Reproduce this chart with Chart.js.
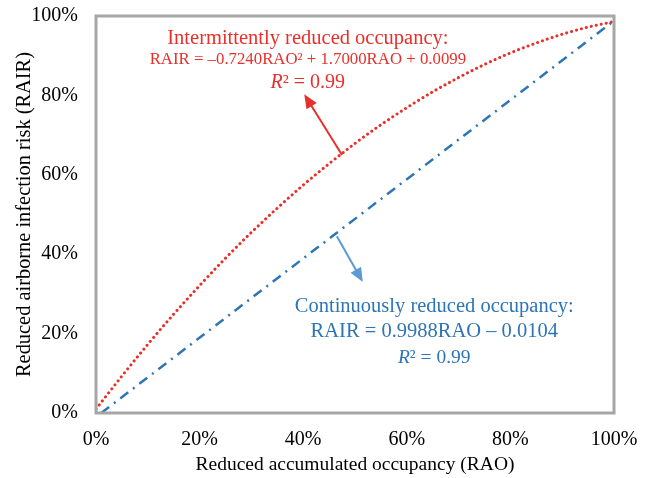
<!DOCTYPE html>
<html>
<head>
<meta charset="utf-8">
<script src="https://cdn.jsdelivr.net/npm/chart.js@4.4.1/dist/chart.umd.min.js"></script>
<style>
  html, body { margin: 0; padding: 0; background: #fff; }
  #wrap { width: 652px; height: 478px; }
</style>
</head>
<body>
<div id="wrap"><canvas id="chart"></canvas></div>
<script>
// values (percent)
var raoIntermittent = [0, 5, 10, 15, 20, 25, 30, 35, 40, 45, 50, 55, 60, 65, 70, 75, 80, 85, 90, 95, 100];
var rairIntermittent = [1.0, 9.3, 17.3, 24.9, 32.1, 39.0, 45.5, 51.6, 57.4, 62.8, 67.9, 72.6, 76.9, 80.9, 84.5, 87.8, 90.7, 93.2, 95.4, 97.2, 98.6];
var raoContinuous = [1.0, 100];
var rairContinuous = [0, 98.8];
var tickValues = [0, 20, 40, 60, 80, 100];

var serif = "'Liberation Serif', 'Times New Roman', serif";
var red = "#e8302a";
var blue = "#2e75b6";
var lightBlue = "#5b9bd5";

function pts(xs, ys) {
  var out = [];
  for (var i = 0; i < xs.length; i++) out.push({ x: xs[i], y: ys[i] });
  return out;
}

function arrow(ctx, x1, y1, x2, y2, color) {
  var a = Math.atan2(y2 - y1, x2 - x1);
  var len = 14, w = 6;
  ctx.save();
  ctx.strokeStyle = color;
  ctx.fillStyle = color;
  ctx.lineWidth = 2;
  ctx.beginPath();
  ctx.moveTo(x1, y1);
  ctx.lineTo(x2 - Math.cos(a) * len * 0.8, y2 - Math.sin(a) * len * 0.8);
  ctx.stroke();
  ctx.beginPath();
  ctx.moveTo(x2, y2);
  ctx.lineTo(x2 - Math.cos(a) * len + Math.sin(a) * w, y2 - Math.sin(a) * len - Math.cos(a) * w);
  ctx.lineTo(x2 - Math.cos(a) * len - Math.sin(a) * w, y2 - Math.sin(a) * len + Math.cos(a) * w);
  ctx.closePath();
  ctx.fill();
  ctx.restore();
}

// "R² = 0.99" with italic R, centred on cx
function r2(ctx, cx, cy, color, size) {
  ctx.save();
  ctx.fillStyle = color;
  ctx.textBaseline = "middle";
  ctx.textAlign = "left";
  var f1 = "italic " + size + "px " + serif, f2 = size + "px " + serif;
  ctx.font = f1;
  var w1 = ctx.measureText("R").width;
  ctx.font = f2;
  var rest = "\u00b2 = 0.99";
  var w2 = ctx.measureText(rest).width;
  var x = cx - (w1 + w2) / 2;
  ctx.font = f1;
  ctx.fillText("R", x, cy);
  ctx.font = f2;
  ctx.fillText(rest, x + w1, cy);
  ctx.restore();
}

var extras = {
  id: "extras",
  afterDraw: function(chart) {
    var ctx = chart.ctx, a = chart.chartArea;
    var xs = chart.scales.x, ys = chart.scales.y;
    function px(v) { return xs.getPixelForValue(v); }
    function py(v) { return ys.getPixelForValue(v); }

    ctx.save();
    ctx.strokeStyle = "#a6a6a6";
    ctx.lineWidth = 3;
    ctx.strokeRect(a.left, a.top, a.right - a.left, a.bottom - a.top);
    ctx.restore();

    ctx.save();
    ctx.textAlign = "center";
    ctx.textBaseline = "middle";
    ctx.fillStyle = red;
    ctx.font = "20.5px " + serif;
    ctx.fillText("Intermittently reduced occupancy:", px(40.9), py(94.4));
    ctx.font = "16.8px " + serif;
    ctx.fillText("RAIR = \u20130.7240RAO\u00b2 + 1.7000RAO + 0.0099", px(40.9), py(88.9));
    ctx.fillStyle = blue;
    ctx.font = "20.5px " + serif;
    ctx.fillText("Continuously reduced occupancy:", px(65.3), py(26.7));
    ctx.fillText("RAIR = 0.9988RAO \u2013 0.0104", px(65.3), py(20.4));
    ctx.restore();
    r2(ctx, px(40.9), py(83.3), red, 20);
    r2(ctx, px(65.3), py(13.9), blue, 19.5);

    arrow(ctx, px(47.5), py(65.0), px(40.2), py(80.3), red);
    arrow(ctx, px(46.5), py(44.5), px(51.5), py(33.0), lightBlue);
  }
};

new Chart(document.getElementById("chart"), {
  type: "line",
  data: {
    datasets: [
      {
        label: "Intermittently reduced occupancy",
        data: pts(raoIntermittent, rairIntermittent),
        borderColor: red,
        borderWidth: 3,
        borderDash: [0.1, 5],
        borderCapStyle: "round",
        cubicInterpolationMode: "monotone",
        pointRadius: 0,
        fill: false
      },
      {
        label: "Continuously reduced occupancy",
        data: pts(raoContinuous, rairContinuous),
        borderColor: blue,
        borderWidth: 2.5,
        borderDash: [10, 6, 2, 6],
        pointRadius: 0,
        fill: false
      }
    ]
  },
  options: {
    responsive: true,
    maintainAspectRatio: false,
    animation: false,
    layout: { padding: { top: 16, right: 38, left: 12, bottom: 0 } },
    plugins: { legend: { display: false }, tooltip: { enabled: false } },
    scales: {
      x: {
        type: "linear",
        min: 0, max: 100,
        afterBuildTicks: function(s) { s.ticks = tickValues.map(function(v) { return { value: v }; }); },
        afterFit: function(s) { s.height = 65; s.paddingLeft = 0; s.paddingRight = 0; },
        grid: { display: false },
        border: { display: false },
        ticks: {
          color: "#000", padding: 7, maxRotation: 0,
          font: { family: serif, size: 20 },
          callback: function(v) { return v + "%"; }
        },
        title: {
          display: true, text: "Reduced accumulated occupancy (RAO)", color: "#000",
          font: { family: serif, size: 19.5 }, padding: { top: 2, bottom: 1 }
        }
      },
      y: {
        type: "linear",
        min: 0, max: 100,
        afterBuildTicks: function(s) { s.ticks = tickValues.map(function(v) { return { value: v }; }); },
        afterFit: function(s) { s.width = 84; s.paddingTop = 0; s.paddingBottom = 0; },
        grid: { display: false },
        border: { display: false },
        ticks: {
          color: "#000", padding: 10,
          font: { family: serif, size: 20 },
          callback: function(v) { return v + "%"; }
        },
        title: {
          display: true, text: "Reduced airborne infection risk (RAIR)", color: "#000",
          font: { family: serif, size: 20.4 }, padding: { top: 0, bottom: 0 }
        }
      }
    }
  },
  plugins: [extras]
});
</script>
</body>
</html>
